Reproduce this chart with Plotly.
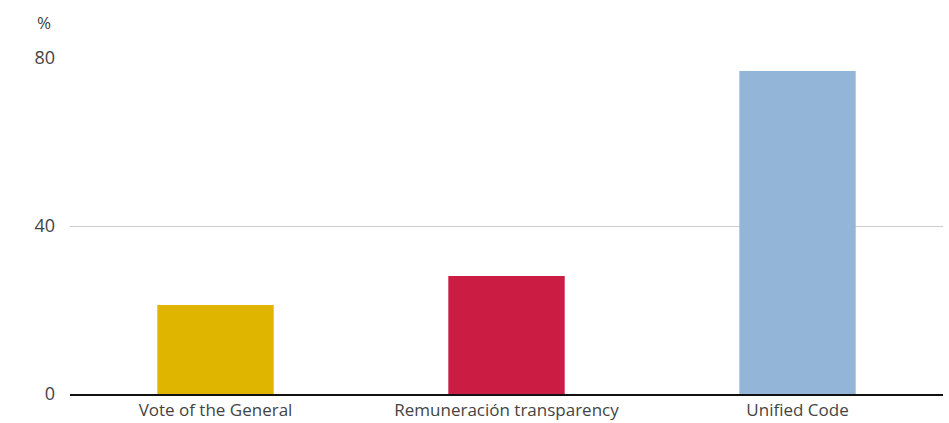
import plotly.graph_objects as go

categories = ["Vote of the General", "Remuneración transparency", "Unified Code"]
values = [21.2, 28.1, 76.9]
colors = ["#DFB500", "#CB1D43", "#93B6D8"]
y_ticks = [0, 40, 80]

fig = go.Figure()
fig.add_trace(go.Bar(x=categories, y=values, marker=dict(color=colors, line=dict(width=0)),
                     width=0.4, showlegend=False))

font_family = "Open Sans, Noto Sans, sans-serif"
fig.update_layout(
    width=949, height=423,
    margin=dict(l=70, r=6, t=58, b=29),
    paper_bgcolor="white", plot_bgcolor="white",
    font=dict(family=font_family, size=17, color="#444444"),
    bargap=0.6,
)
fig.update_yaxes(range=[0, 80], tickvals=y_ticks, ticktext=[str(v) for v in y_ticks],
                 showgrid=True, gridcolor="#CCCCCC", gridwidth=1, zeroline=False,
                 showline=False, ticks="", ticklabelstandoff=14, automargin=False,
                 tickfont=dict(size=18, color="#444444"))
fig.update_xaxes(showline=True, linecolor="#111111", linewidth=1.5, ticks="",
                 showgrid=False, ticklabelstandoff=0, automargin=False,
                 tickfont=dict(size=17, color="#444444"))
fig.add_annotation(text="%", xref="paper", yref="paper", x=-70/873 + 44/873, y=1,
                   yshift=36, xanchor="center", yanchor="middle", showarrow=False,
                   font=dict(size=17, color="#444444"))
fig.write_html("out.html")
